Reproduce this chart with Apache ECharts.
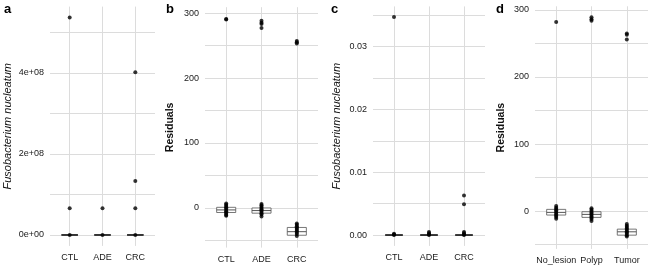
<!DOCTYPE html>
<html>
<head>
<meta charset="utf-8">
<script src="https://cdn.jsdelivr.net/npm/echarts@6/dist/echarts.min.js"></script>
<style>
html, body { margin: 0; background: #fff; }
#container { width: 652px; height: 265px; }
</style>
</head>
<body>
<div id="container"></div>
<script>
// categories
const groupsAbs = ['CTL', 'ADE', 'CRC'];
const groupsLesion = ['No_lesion', 'Polyp', 'Tumor'];

// panel a: absolute abundance (one list of points per group)
const aPoints = [[5.37e8, 6.6e7, 0], [6.6e7, 0], [4.02e8, 1.33e8, 6.6e7, 0]];
const aBoxes = [[0, 0, 0, 0, 0], [0, 0, 0, 0, 0], [0, 0, 0, 0, 0]];   // min, Q1, median, Q3, max
const aGrid = [0, 1e8, 2e8, 3e8, 4e8, 5e8];
const aLabels = [0, 2e8, 4e8];

// panel b: residuals by CTL/ADE/CRC
const bPoints = [
    [291, 290, 7, 5, 3, 1, -1, -3, -5, -7, -9, -11, -12],
    [288, 285, 283, 277, 6, 4, 2, 0, -2, -4, -6, -8, -10, -13],
    [257, 255, 253, -24, -26, -28, -30, -32, -34, -36, -38, -40, -43]
];
const bBoxes = [[-12, -7, -3, 1, 7], [-13, -8, -4, 0, 6], [-43, -42, -36.5, -30, -24]];
const bGrid = [-50, 0, 50, 100, 150, 200, 250, 300];
const bLabels = [0, 100, 200, 300];

// panel c: relative abundance
const cPoints = [
    [0.0347, 0.0002, 0.0001, 0],
    [0.0005, 0.0003, 0.0001, 0],
    [0.0063, 0.0049, 0.0005, 0.0003, 0.0001, 0]
];
const cBoxes = [[0, 0, 0, 0, 0], [0, 0, 0, 0, 0], [0, 0, 0, 0, 0]];
const cGrid = [0, 0.005, 0.01, 0.015, 0.02, 0.025, 0.03, 0.035];
const cLabels = [0, 0.01, 0.02, 0.03];

// panel d: residuals by lesion
const dPoints = [
    [282, 7.5, 5, 3, 1, -1, -3, -5, -7, -9, -11.5],
    [289, 286, 284, 4, 2, 0, -2, -4, -6, -8, -10, -12, -15],
    [265, 263, 256, -19.5, -22, -24, -26, -28, -30, -32, -34, -36, -38]
];
const dBoxes = [[-11.5, -6, -2, 2.5, 7.5], [-15, -9.5, -5, -1, 4], [-38, -36, -31, -27, -19.5]];
const dGrid = [-50, 0, 50, 100, 150, 200, 250, 300];
const dLabels = [0, 100, 200, 300];

const dom = document.getElementById('container');
const myChart = echarts.init(dom, null, { renderer: 'canvas' });

const FONT = '"Liberation Sans", Arial, sans-serif';
const GRIDCOL = '#dcdcdc';

const panels = [
    { cats: groupsAbs, points: aPoints, boxes: aBoxes, grid: aGrid, labels: aLabels,
      fmt: v => v === 0 ? '0e+00' : (v / 1e8) + 'e+08',
      min: -2.7e7, max: 5.64e8, left: 50, right: 155, top: 6.6, bottom: 245.9,
      name: 'Fusobacterium nucleatum', italic: true, gap: 37, half: 0.25 },
    { cats: groupsAbs, points: bPoints, boxes: bBoxes, grid: bGrid, labels: bLabels,
      fmt: v => String(v),
      min: -61, max: 309, left: 205, right: 318, top: 7.2, bottom: 247.6,
      name: 'Residuals', italic: false, gap: 29, half: 0.27 },
    { cats: groupsAbs, points: cPoints, boxes: cBoxes, grid: cGrid, labels: cLabels,
      fmt: v => v.toFixed(2),
      min: -0.00173, max: 0.0364, left: 373, right: 485, top: 6.4, bottom: 245.9,
      name: 'Fusobacterium nucleatum', italic: true, gap: 31, half: 0.25 },
    { cats: groupsLesion, points: dPoints, boxes: dBoxes, grid: dGrid, labels: dLabels,
      fmt: v => String(v),
      min: -56.5, max: 305.5, left: 535, right: 648, top: 6.3, bottom: 248.9,
      name: 'Residuals', italic: false, gap: 28, half: 0.27 }
];

function boxSeries(idx, boxes, half, flat) {
    return {
        type: 'custom',
        xAxisIndex: idx,
        yAxisIndex: idx,
        silent: true,
        z: 2,
        data: boxes.map((b, i) => [i + 1].concat(b)),
        renderItem: function (params, api) {
            const x = api.value(0);
            const lo = api.value(1), q1 = api.value(2), med = api.value(3), q3 = api.value(4), hi = api.value(5);
            const lb = api.coord([x - half, q1]);
            const rt = api.coord([x + half, q3]);
            const ml = api.coord([x - half, med]);
            const mr = api.coord([x + half, med]);
            const pLo = api.coord([x, lo]);
            const pHi = api.coord([x, hi]);
            const stroke = flat ? '#222' : '#555';
            const children = [
                { type: 'line', shape: { x1: pLo[0], y1: pLo[1], x2: pLo[0], y2: lb[1] },
                  style: { stroke: stroke, lineWidth: 0.8 } },
                { type: 'line', shape: { x1: pHi[0], y1: pHi[1], x2: pHi[0], y2: rt[1] },
                  style: { stroke: stroke, lineWidth: 0.8 } },
                { type: 'rect', shape: { x: lb[0], y: rt[1], width: rt[0] - lb[0], height: lb[1] - rt[1] },
                  style: { fill: '#fff', stroke: stroke, lineWidth: 0.8 } },
                { type: 'line', shape: { x1: ml[0], y1: ml[1], x2: mr[0], y2: mr[1] },
                  style: { stroke: stroke, lineWidth: flat ? 1.4 : 1 } }
            ];
            return { type: 'group', children: children };
        }
    };
}

const grids = [], xAxes = [], yAxes = [], series = [];
panels.forEach((p, i) => {
    grids.push({ left: p.left, width: p.right - p.left, top: p.top, height: p.bottom - p.top });
    xAxes.push({
        type: 'value', gridIndex: i, min: 0.4, max: 3.6,
        axisLine: { show: false },
        axisTick: { show: false, customValues: [1, 2, 3] },
        axisLabel: {
            customValues: [1, 2, 3],
            formatter: v => p.cats[Math.round(v) - 1],
            color: '#1a1a1a', fontSize: 9, fontFamily: FONT, margin: 7
        },
        splitLine: { show: true, lineStyle: { color: GRIDCOL, width: 1 } }
    });
    yAxes.push({
        type: 'value', gridIndex: i, min: p.min, max: p.max,
        name: p.name, nameLocation: 'middle', nameGap: p.gap,
        nameTextStyle: {
            fontFamily: FONT, fontSize: p.italic ? 11 : 10.5, color: '#111',
            fontStyle: p.italic ? 'italic' : 'normal', fontWeight: p.italic ? 'normal' : 'bold'
        },
        axisLine: { show: false },
        axisTick: { show: false, customValues: p.grid },
        axisLabel: {
            customValues: p.labels,
            formatter: p.fmt,
            color: '#1a1a1a', fontSize: 9, fontFamily: FONT, margin: 6
        },
        splitLine: { show: true, lineStyle: { color: GRIDCOL, width: 1 } }
    });
    series.push(boxSeries(i, p.boxes, p.half, p.boxes[0][4] === 0));
    const pts = [];
    p.points.forEach((list, g) => list.forEach(v => pts.push([g + 1, v])));
    series.push({
        type: 'scatter', xAxisIndex: i, yAxisIndex: i, silent: true, z: 3,
        symbol: 'circle', symbolSize: 4,
        itemStyle: { color: '#000' },
        data: pts
    });
});

const letters = [['a', 4], ['b', 166], ['c', 331], ['d', 496]];

const option = {
    animation: false,
    backgroundColor: '#fff',
    grid: grids,
    xAxis: xAxes,
    yAxis: yAxes,
    series: series,
    graphic: letters.map(l => ({
        type: 'text', left: l[1], top: 3,
        style: { text: l[0], fontFamily: FONT, fontWeight: 'bold', fontSize: 13, fill: '#000' }
    }))
};
myChart.setOption(option);
</script>
</body>
</html>
